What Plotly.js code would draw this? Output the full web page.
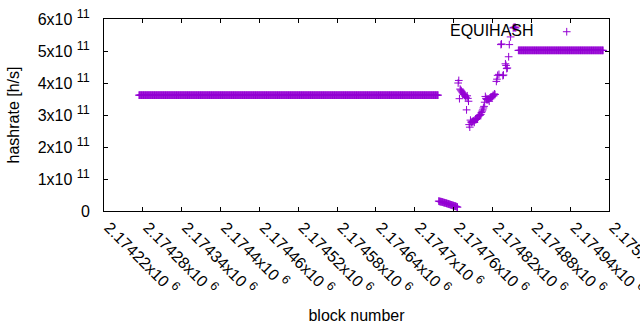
<!DOCTYPE html>
<html>
<head>
<meta charset="utf-8">
<script src="https://cdn.plot.ly/plotly-3.0.1.min.js"></script>
<style>html,body{margin:0;padding:0;background:#fff;}#chart{width:640px;height:330px;}</style>
</head>
<body>
<div id="chart"></div>
<script>
// ---- data ----
// constant-rate stretches (one point per block): start block, end block, hashrate
var flatFrom  = [2174274, 2174860];
var flatTo    = [2174736, 2174991];
var flatLevel = [3.62e11, 5.02e11];

// low stretch after the first drop
var lowBlocks = [2174737,2174738,2174739,2174740,2174741,2174742,2174743,2174744,2174745,2174746,
                 2174747,2174748,2174749,2174750,2174751,2174752,2174753,2174754,2174755,2174756,
                 2174757,2174758,2174759,2174760,2174761,2174762,2174763,2174764,2174765,2174766];
var lowRates  = [0.31e11,0.30e11,0.30e11,0.29e11,0.29e11,0.28e11,0.28e11,0.27e11,0.26e11,0.26e11,
                 0.25e11,0.25e11,0.24e11,0.23e11,0.23e11,0.22e11,0.21e11,0.21e11,0.20e11,0.19e11,
                 0.19e11,0.18e11,0.17e11,0.17e11,0.16e11,0.15e11,0.15e11,0.14e11,0.13e11,0.12e11];

// scattered recovery stretch
var scatBlocks = [2174767,2174768,2174769,2174770,2174771,2174772,2174773,2174774,2174775,2174776,
                  2174777,2174778,2174779,2174780,2174781,2174782,2174783,2174784,2174785,2174786,
                  2174787,2174788,2174789,2174790,2174791,2174792,2174793,2174794,2174795,2174796,
                  2174797,2174798,2174799,2174800,2174801,2174802,2174803,2174804,2174805,2174806,
                  2174807,2174808,2174809,2174810,2174811,2174812,2174813,2174814,2174815,2174816,
                  2174817,2174818,2174819,2174820,2174821,2174822,2174823,2174824,2174826,2174827,
                  2174828,2174830,2174833,2174834,2174836,2174837,2174840,2174841,2174842,2174843,
                  2174845,2174846,2174848,2174852,2174853,2174854,2174855,2174856];
var scatRates  = [4.00e11,4.08e11,3.51e11,3.81e11,3.78e11,3.75e11,3.72e11,3.69e11,3.66e11,3.64e11,
                  3.62e11,3.58e11,3.55e11,3.16e11,3.60e11,3.52e11,3.43e11,2.70e11,2.62e11,2.84e11,
                  2.78e11,2.76e11,2.80e11,2.79e11,2.82e11,2.77e11,2.84e11,2.88e11,2.86e11,2.90e11,
                  2.88e11,2.94e11,2.97e11,2.99e11,3.00e11,3.02e11,3.08e11,3.12e11,3.16e11,3.22e11,
                  3.27e11,3.40e11,3.58e11,3.52e11,3.48e11,3.50e11,3.47e11,3.50e11,3.43e11,3.53e11,
                  3.55e11,3.54e11,3.57e11,3.58e11,3.62e11,3.60e11,3.66e11,3.64e11,4.05e11,4.12e11,
                  4.24e11,4.27e11,5.20e11,5.22e11,4.23e11,4.25e11,4.60e11,4.55e11,4.45e11,4.47e11,
                  4.82e11,5.20e11,5.44e11,5.72e11,5.74e11,5.73e11,5.75e11,5.72e11];

// axis ticks: mantissas shown as "<m>x10^<e>"
var xTickVals = [2174220,2174280,2174340,2174400,2174460,2174520,2174580,2174640,2174700,2174760,2174820,2174880,2174940,2175000];
var xMantissa = ['2.17422','2.17428','2.17434','2.1744','2.17446','2.17452','2.17458','2.17464','2.1747','2.17476','2.17482','2.17488','2.17494','2.175'];
var xExponent = '6';
var yTickVals = [0,1e11,2e11,3e11,4e11,5e11,6e11];
var yMantissa = ['0','1','2','3','4','5','6'];
var yExponent = '11';
var seriesName = 'EQUIHASH';

function sci(m, e){
  if (m === '0') return '0';
  return m + 'x10 <sup><span style="font-size:12.5px">' + e + '</span></sup>';
}
var xTickText = xMantissa.map(function(m){ return sci(m, xExponent); });
var yTickText = yMantissa.map(function(m){ return sci(m, yExponent); });

// ---- assemble points ----
var xs = [], ys = [];
function addRun(i){ for (var b = flatFrom[i]; b <= flatTo[i]; b++){ xs.push(b); ys.push(flatLevel[i]); } }
addRun(0);
for (var i = 0; i < lowBlocks.length; i++){ xs.push(lowBlocks[i]); ys.push(lowRates[i]); }
for (var j = 0; j < scatBlocks.length; j++){ xs.push(scatBlocks[j]); ys.push(scatRates[j]); }
addRun(1);

var COLOR = '#9400d3';
var FONT = 'Liberation Sans, Arial, sans-serif';

var trace = {
  x: xs, y: ys, type: 'scatter', mode: 'markers', name: seriesName,
  marker: {symbol: 'cross-thin-open', size: 5.5, color: COLOR, line: {color: COLOR, width: 1}},
  cliponaxis: true
};

var axisCommon = {
  showline: true, linecolor: '#000', linewidth: 1, mirror: 'ticks',
  ticks: 'inside', ticklen: 4, tickcolor: '#000', tickwidth: 1,
  showgrid: false, zeroline: false, automargin: false,
  ticklabeloverflow: 'allow',
  tickfont: {family: FONT, size: 16, color: '#000'}
};

var layout = {
  width: 640, height: 330,
  margin: {l: 104, r: 31, t: 19, b: 119, pad: 0},
  paper_bgcolor: '#fff', plot_bgcolor: '#fff',
  font: {family: FONT, size: 16, color: '#000'},
  showlegend: false,
  xaxis: Object.assign({}, axisCommon, {
    range: [2174220, 2175000], tickmode: 'array', tickvals: xTickVals, ticktext: xTickText,
    tickangle: 45, ticklabelstandoff: 0, ticklabelshift: 5,
    title: {text: 'block number', font: {family: FONT, size: 16, color: '#000'}, standoff: 12}
  }),
  yaxis: Object.assign({}, axisCommon, {
    range: [0, 6e11], tickmode: 'array', tickvals: yTickVals, ticktext: yTickText,
    ticklabelstandoff: 10,
    title: {text: 'hashrate [h/s]', font: {family: FONT, size: 16, color: '#000'}, standoff: 14}
  }),
  annotations: [{
    text: seriesName, xref: 'paper', yref: 'paper', x: 0.856, y: 0.939,
    xanchor: 'right', yanchor: 'middle', showarrow: false,
    font: {family: FONT, size: 16, color: '#000'}
  }],
  shapes: [{
    type: 'path', xref: 'paper', yref: 'paper', xsizemode: 'pixel', ysizemode: 'pixel',
    xanchor: 0.9163, yanchor: 0.9337,
    path: 'M-3.85,0H3.85M0,-3.85V3.85',
    line: {color: COLOR, width: 1}
  }]
};

Plotly.newPlot('chart', [trace], layout, {staticPlot: true, displayModeBar: false});
</script>
</body>
</html>
